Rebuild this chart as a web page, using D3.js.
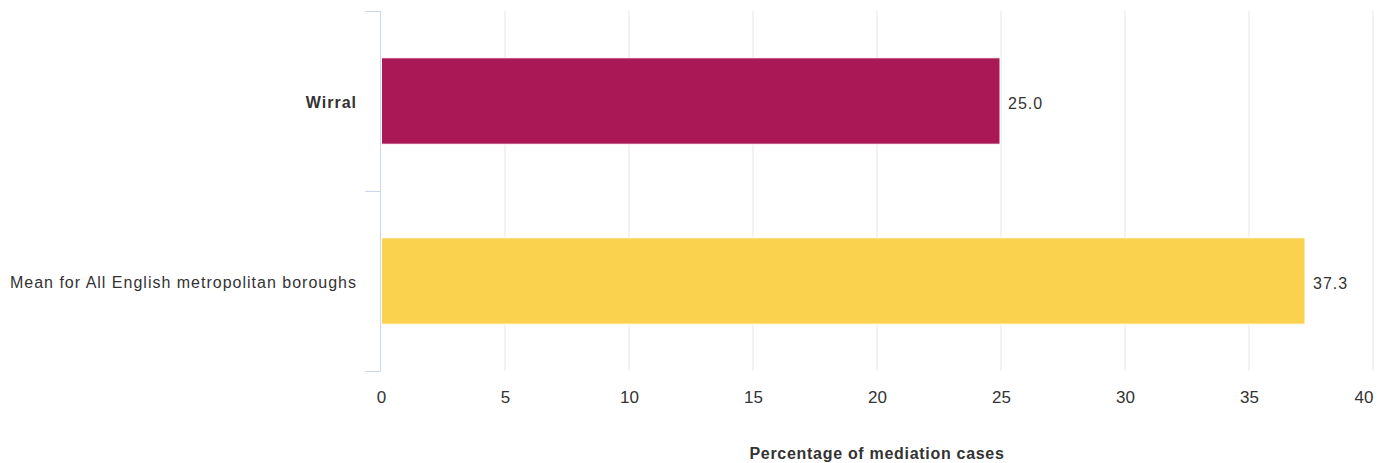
<!DOCTYPE html>
<html><head><meta charset="utf-8">
<script src="https://cdn.jsdelivr.net/npm/d3@7"></script>
<style>body{margin:0;background:#fff;} text{font-family:"Liberation Sans",Arial,sans-serif;}</style>
</head><body>
<svg id="c" width="1385" height="463"></svg>
<script>
const categories = ["Wirral", "Mean for All English metropolitan boroughs"];
const values = [25.0, 37.3];
const colors = ["#aa1955", "#fbd24e"];
const xTicks = [0, 5, 10, 15, 20, 25, 30, 35, 40];
const xTitle = "Percentage of mediation cases";

const svg = d3.select("#c");
const L = 381, R = 1373, T = 11, B = 371;
const x = d3.scaleLinear().domain([0, 40]).range([L, R]);
const y = d3.scaleBand().domain(categories).range([T, B]).padding(0);

// grid
svg.append("g").selectAll("line").data(xTicks.slice(1)).join("line")
  .attr("x1", d => x(d)).attr("x2", d => x(d)).attr("y1", T).attr("y2", B)
  .attr("stroke", "#e6e6e6").attr("stroke-width", 1);

// bars
const bh = y.bandwidth() * 0.48;
svg.append("g").selectAll("rect").data(values).join("rect")
  .attr("x", x(0) + 0.5)
  .attr("y", (d, i) => y(categories[i]) + y.bandwidth() / 2 - bh / 2)
  .attr("width", d => x(d) - x(0) - 1.5)
  .attr("height", bh)
  .attr("fill", (d, i) => colors[i])
  .attr("stroke", "#fff").attr("stroke-width", 1);

// y axis line and ticks
const ya = svg.append("g").attr("stroke", "#ccd6eb").attr("stroke-width", 1).attr("fill", "none");
ya.append("line").attr("x1", L - 0.5).attr("x2", L - 0.5).attr("y1", T).attr("y2", B);
const yTickPos = [T, ...categories.slice(1).map(c => y(c)), B];
ya.selectAll("line.t").data(yTickPos).join("line").attr("class", "t")
  .attr("x1", L - 16).attr("x2", L - 0.5).attr("y1", d => Math.round(d) + 0.5).attr("y2", d => Math.round(d) + 0.5);

// x tick labels via d3 axis
const xa = svg.append("g").attr("transform", `translate(0,${B})`)
  .call(d3.axisBottom(x).tickValues(xTicks).tickSize(0).tickPadding(20).tickFormat(d3.format("d")));
xa.select(".domain").remove();
xa.selectAll("text").attr("fill", "#333").style("font-size", "17px").style("font-family", "Liberation Sans, Arial, sans-serif")
  .attr("text-anchor", (d, i) => i === xTicks.length - 1 ? "end" : "middle");

// category labels
svg.append("g").selectAll("text").data(categories).join("text")
  .attr("x", 357).attr("y", d => y(d) + y.bandwidth() / 2 + 1)
  .attr("dy", "0.35em").attr("text-anchor", "end")
  .attr("fill", "#333").style("font-size", "16px").style("letter-spacing", "1px")
  .style("font-weight", (d, i) => i === 0 ? "bold" : "normal")
  .text(d => d);

// value labels
svg.append("g").selectAll("text").data(values).join("text")
  .attr("x", d => x(d) + 7).attr("y", (d, i) => y(categories[i]) + y.bandwidth() / 2 + 2)
  .attr("dy", "0.35em").attr("fill", "#333").style("font-size", "16px").style("letter-spacing", "1px")
  .text(d => d.toFixed(1));

// axis title
svg.append("text").attr("x", 877).attr("y", 459)
  .attr("text-anchor", "middle").attr("fill", "#333")
  .style("font-size", "16px").style("font-weight", "bold").style("letter-spacing", "0.7px")
  .text(xTitle);
</script>
</body></html>
